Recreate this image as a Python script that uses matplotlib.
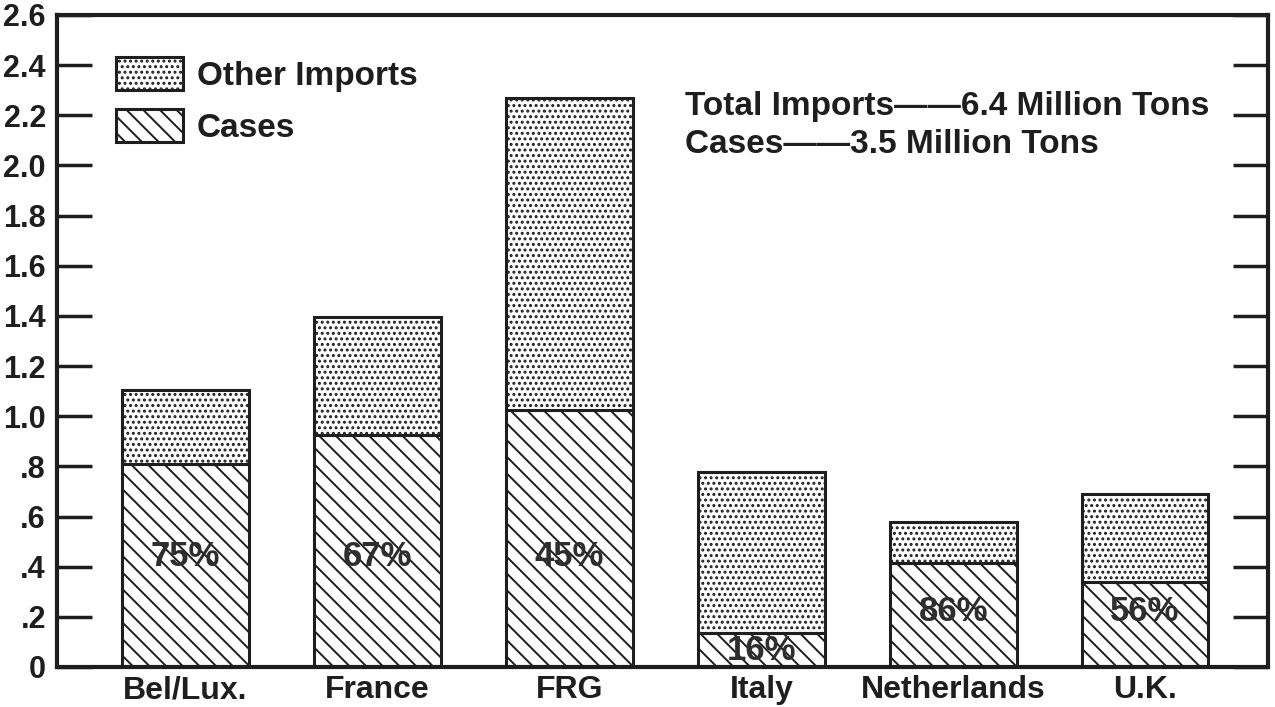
import matplotlib.pyplot as plt
import matplotlib.patches as mpatches
import numpy as np

countries = ['Bel/Lux.', 'France', 'FRG', 'Italy', 'Netherlands', 'U.K.']
cases = [0.81, 0.925, 1.025, 0.135, 0.415, 0.34]
other = [0.295, 0.47, 1.245, 0.643, 0.163, 0.35]
pct_labels = ['75%', '67%', '45%', '16%', '86%', '56%']
label_y = [0.44, 0.44, 0.44, 0.065, 0.22, 0.22]
yticks = [0, 0.2, 0.4, 0.6, 0.8, 1.0, 1.2, 1.4, 1.6, 1.8, 2.0, 2.2, 2.4, 2.6]
ytick_labels = ['0', '.2', '.4', '.6', '.8', '1.0', '1.2', '1.4', '1.6', '1.8',
                '2.0', '2.2', '2.4', '2.6']

ink = '#1e1e1e'
plt.rcParams['font.family'] = ['Liberation Sans', 'DejaVu Sans']
plt.rcParams['font.weight'] = 'bold'
plt.rcParams['hatch.linewidth'] = 1.4
plt.rcParams['hatch.color'] = ink

fig = plt.figure(figsize=(12.75, 7.07), dpi=100)
ax = fig.add_axes([0.0447, 0.0566, 0.9498, 0.9222])

x = np.arange(len(countries))
ax.bar(x, cases, width=0.66, color='white', edgecolor=ink, linewidth=2.2, hatch='\\\\')
ax.bar(x, other, width=0.66, bottom=cases, color='white', edgecolor=ink, linewidth=2.2, hatch='...')

for xi, lab, ly in zip(x, pct_labels, label_y):
    ax.text(xi, ly, lab, ha='center', va='center', fontsize=25, color='#2e2e2e',
            fontweight='bold')

ax.set_xlim(-0.67, 5.64)
ax.set_ylim(0, 2.6)
ax.set_yticks(yticks)
ax.set_yticklabels(ytick_labels)
ax.set_xticks(x)
ax.set_xticklabels(countries)
ax.tick_params(axis='y', direction='in', length=25, width=2.5, color=ink,
               labelsize=22, labelcolor=ink, right=True, pad=8)
ax.tick_params(axis='x', length=0, labelsize=23, labelcolor=ink, pad=6)
for sp in ax.spines.values():
    sp.set_linewidth(3)
    sp.set_color(ink)

handles = [mpatches.Patch(facecolor='white', edgecolor=ink, linewidth=2.2, hatch='...', label='Other Imports'),
           mpatches.Patch(facecolor='white', edgecolor=ink, linewidth=2.2, hatch='\\\\', label='Cases')]
ax.legend(handles=handles, loc='upper left', bbox_to_anchor=(0.0487, 0.936), frameon=False,
          fontsize=24, handlelength=2.0, handleheight=1.15, labelspacing=0.52,
          handletextpad=0.42, borderpad=0, borderaxespad=0, labelcolor=ink)

ax.text(0.519, 0.83, 'Total Imports\u2014\u20146.4 Million Tons\nCases\u2014\u20143.5 Million Tons',
        transform=ax.transAxes, ha='left', va='center', fontsize=24, color=ink,
        linespacing=1.3)

fig.savefig('out.png', dpi=100)
